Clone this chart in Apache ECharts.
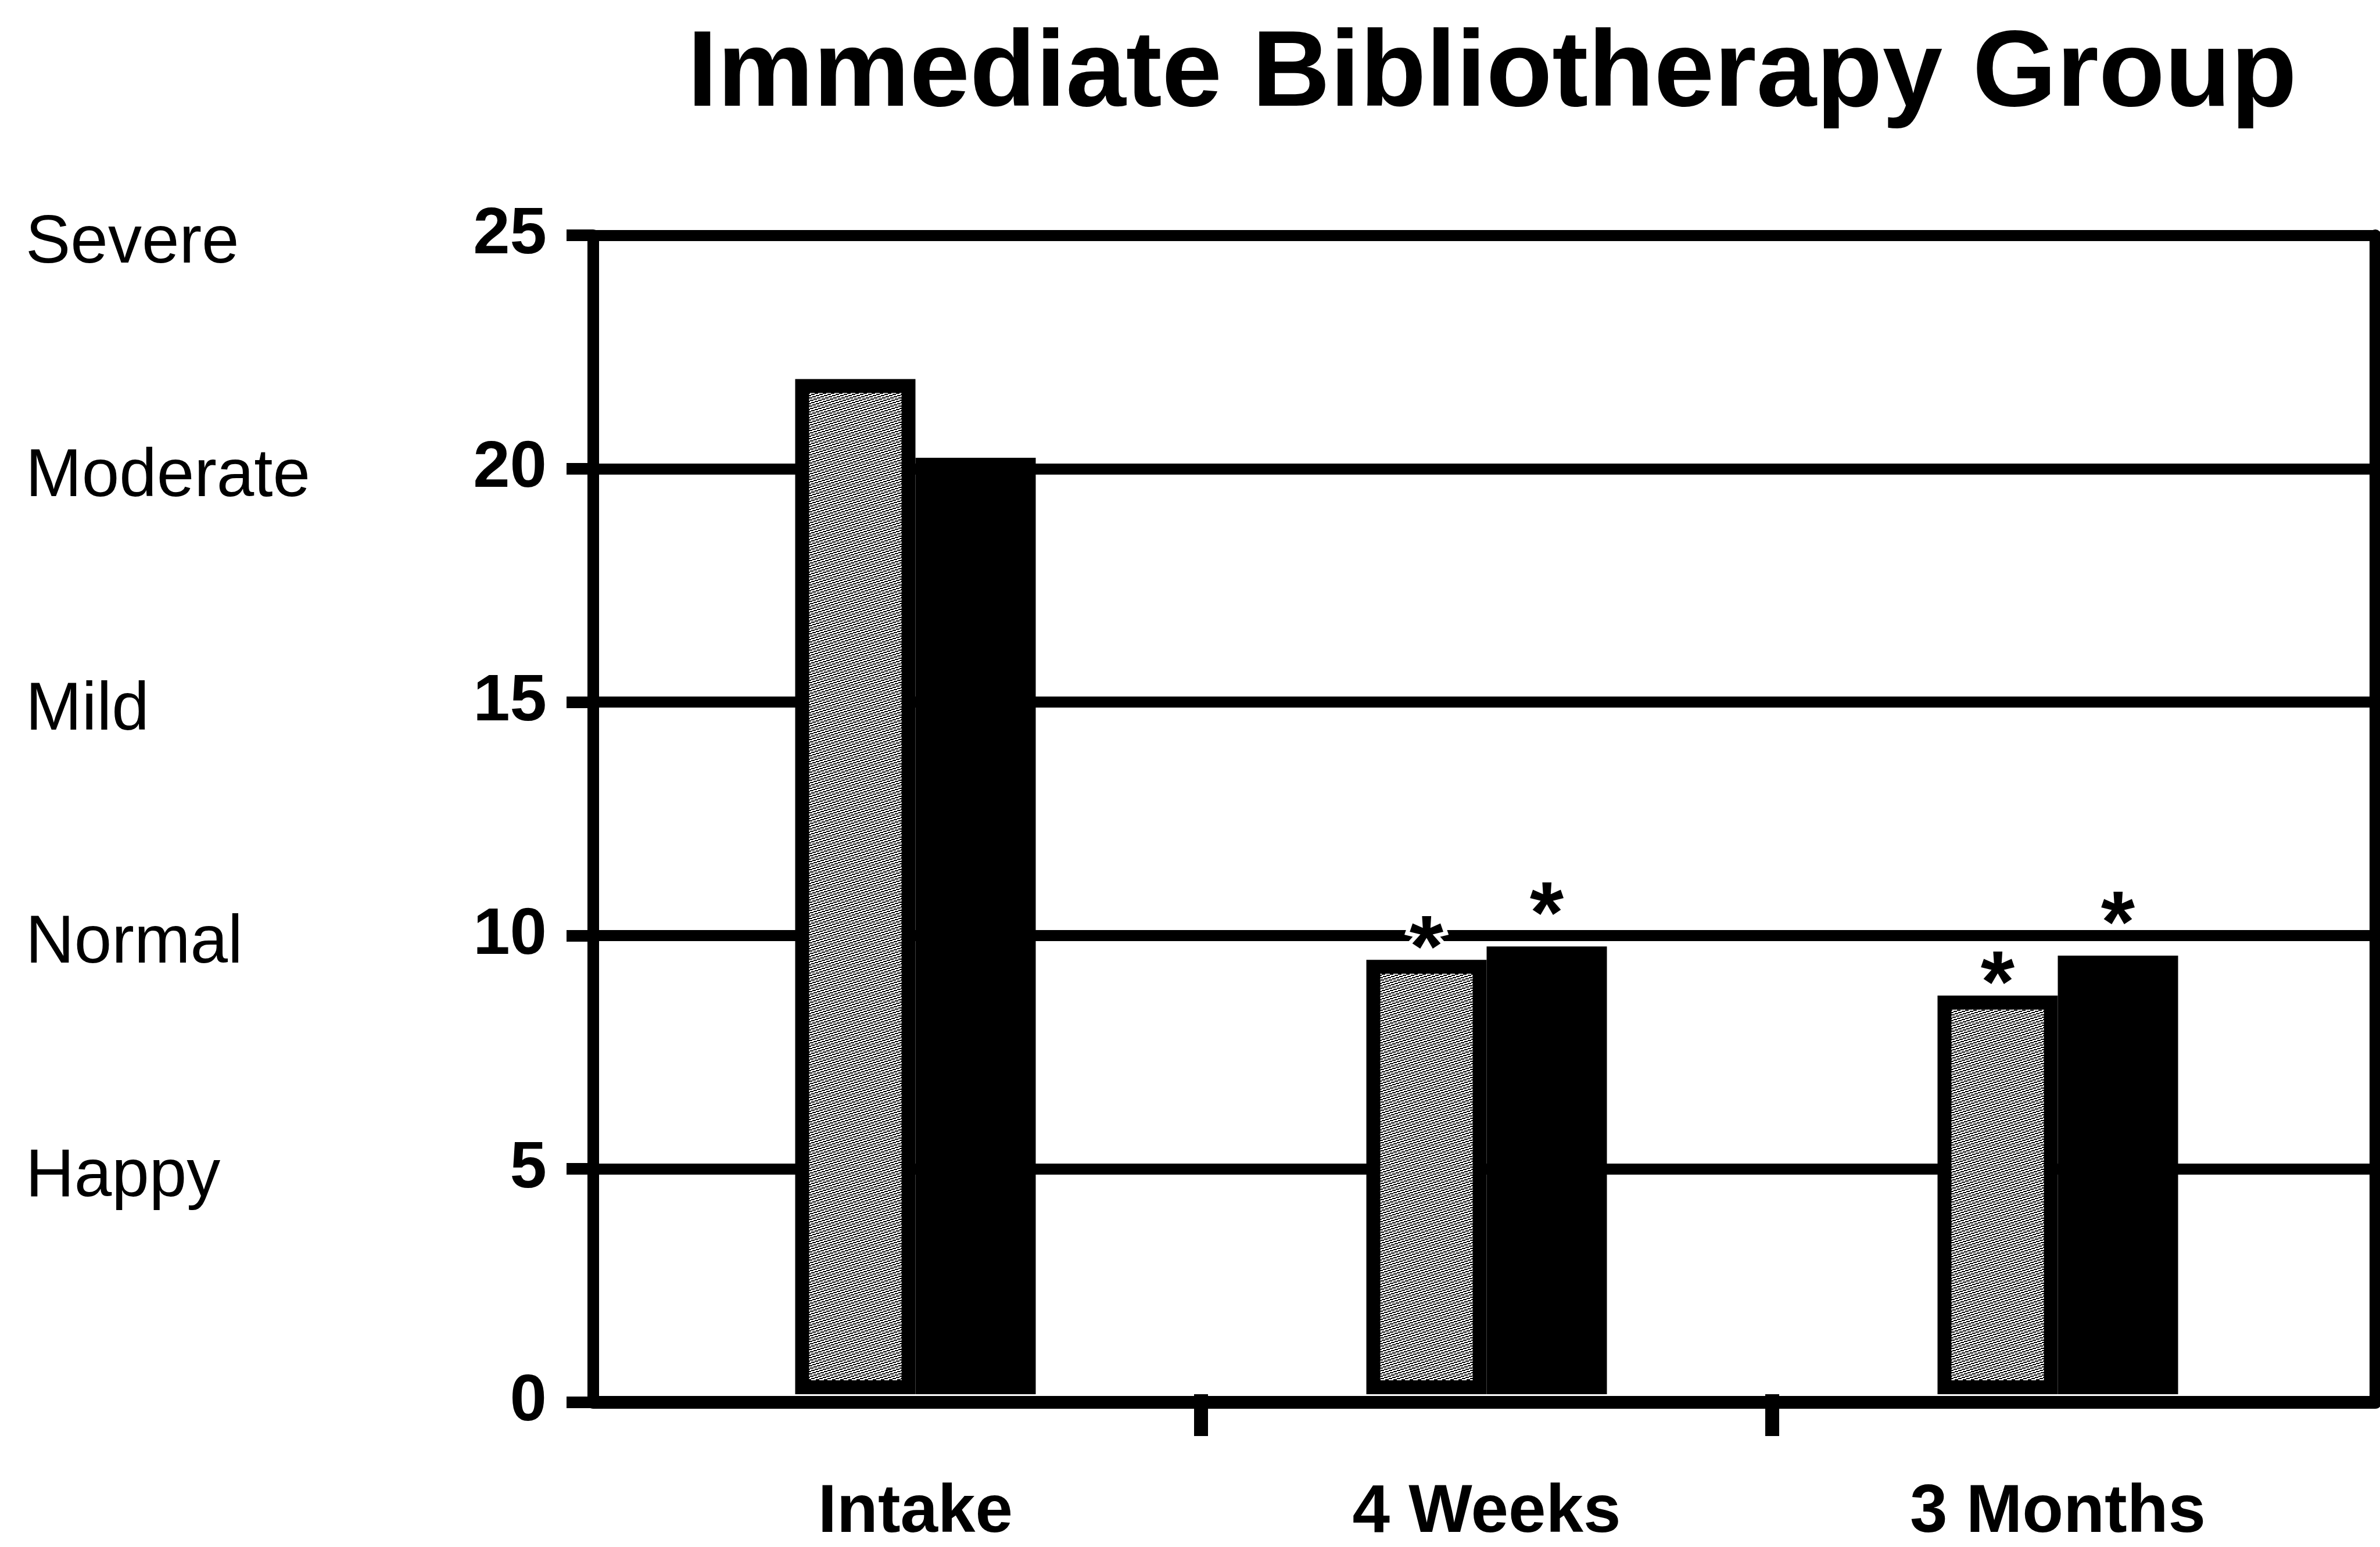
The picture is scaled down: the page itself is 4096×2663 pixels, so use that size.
<!DOCTYPE html>
<html>
<head>
<meta charset="utf-8">
<script src="https://cdn.jsdelivr.net/npm/echarts@6/dist/echarts.min.js"></script>
<style>
html,body{margin:0;padding:0;background:#fff;}
#chart{width:4096px;height:2663px;}
</style>
</head>
<body>
<div id="chart"></div>
<script>
// ---- data ----
const titleText = 'Immediate Bibliotherapy Group';
const categories = ['Intake', '4 Weeks', '3 Months'];
const grayValues = [21.9, 9.37, 8.6];
const blackValues = [20.2, 9.66, 9.46];
const grayMarks = ['', '*', '*'];
const blackMarks = ['', '*', '*'];
const yTicks = [0, 5, 10, 15, 20, 25];
const levelLabels = ['', 'Happy', 'Normal', 'Mild', 'Moderate', 'Severe'];
const betweenTicks = [1, 2];

const FONT = "'Liberation Sans', Arial, Helvetica, sans-serif";

function makePattern() {
  const cell = 2, n = 7;
  const c = document.createElement('canvas');
  c.width = c.height = cell * n;
  const g = c.getContext('2d');
  g.fillStyle = '#ffffff';
  g.fillRect(0, 0, c.width, c.height);
  g.fillStyle = '#000000';
  for (let y = 0; y < n; y++) {
    for (let x = 0; x < n; x++) {
      if (((x + 3 * y) % 7) < 3) g.fillRect(x * cell, y * cell, cell, cell);
    }
  }
  return c;
}

const chart = echarts.init(document.getElementById('chart'), null, {renderer: 'canvas'});

const yMin = yTicks[0], yMax = yTicks[yTicks.length - 1], yStep = yTicks[1] - yTicks[0];

const option = {
  backgroundColor: '#ffffff',
  animation: false,
  title: {
    text: titleText,
    left: 1178,
    top: 33,
    textStyle: {fontFamily: FONT, fontWeight: 'bold', fontSize: 186, color: '#000'}
  },
  grid: [
    {left: 1021, right: 8, top: 405, bottom: 249},
    {left: 1084, right: 63, top: 405, bottom: 249}
  ],
  xAxis: [
    {
      gridIndex: 0, type: 'value', min: 0, max: 1, position: 'bottom',
      axisLine: {show: true, onZero: false, lineStyle: {color: '#000', width: 22}},
      axisTick: {show: false}, axisLabel: {show: false}, splitLine: {show: false}
    },
    {
      gridIndex: 1, type: 'category', data: categories, boundaryGap: true, position: 'bottom',
      axisLine: {show: false, onZero: false}, axisTick: {show: false}, splitLine: {show: false},
      axisLabel: {margin: 147, fontFamily: FONT, fontWeight: 'bold', fontSize: 116, color: '#000'}
    },
    {
      gridIndex: 1, type: 'value', min: 0, max: categories.length, interval: 1, position: 'bottom',
      axisLine: {show: false, onZero: false},
      axisTick: {show: true, customValues: betweenTicks, length: 72, lineStyle: {color: '#000', width: 24}},
      axisLabel: {show: false}, splitLine: {show: false}
    }
  ],
  yAxis: [
    {
      gridIndex: 0, type: 'value', min: yMin, max: yMax, interval: yStep,
      axisLine: {show: true, lineStyle: {color: '#000', width: 20}},
      axisTick: {show: true, length: 46, lineStyle: {color: '#000', width: 20}},
      splitLine: {show: true, lineStyle: {color: '#000', width: 19}},
      axisLabel: {margin: 80, fontFamily: FONT, fontWeight: 'bold', fontSize: 114, color: '#000'}
    },
    {
      gridIndex: 0, type: 'value', min: yMin, max: yMax, interval: yStep, position: 'left',
      axisLine: {show: false}, axisTick: {show: false}, splitLine: {show: false},
      axisLabel: {
        margin: 977, align: 'left',
        formatter: function (v) { const t = levelLabels[Math.round(v / yStep)]; return t ? '{a|' + t + '}' : ''; },
        rich: {a: {fontFamily: FONT, fontSize: 116, color: '#000', padding: [30, 0, 0, 0]}}
      }
    },
    {
      gridIndex: 0, type: 'value', min: yMin, max: yMax, interval: yStep, position: 'right',
      axisLine: {show: true, lineStyle: {color: '#000', width: 20}},
      axisTick: {show: false}, axisLabel: {show: false}, splitLine: {show: false}
    },
    {
      gridIndex: 1, type: 'value', min: yMin, max: yMax, interval: yStep, show: false
    }
  ],
  series: [
    {
      type: 'bar', xAxisIndex: 1, yAxisIndex: 3,
      data: grayValues, barWidth: 207, barGap: '0%',
      itemStyle: {color: {image: makePattern(), repeat: 'repeat'}, borderColor: '#000', borderWidth: 24},
      label: {
        show: true, position: 'top', distance: -62,
        formatter: function (p) { return grayMarks[p.dataIndex] || ''; },
        fontFamily: FONT, fontWeight: 'bold', fontSize: 150, color: '#000',
        textBorderColor: '#fff', textBorderWidth: 14
      }
    },
    {
      type: 'bar', xAxisIndex: 1, yAxisIndex: 3,
      data: blackValues, barWidth: 207, barGap: '0%',
      itemStyle: {color: '#000'},
      label: {
        show: true, position: 'top', distance: -28,
        formatter: function (p) { return blackMarks[p.dataIndex] || ''; },
        fontFamily: FONT, fontWeight: 'bold', fontSize: 150, color: '#000'
      }
    }
  ]
};
chart.setOption(option);
</script>
</body>
</html>
